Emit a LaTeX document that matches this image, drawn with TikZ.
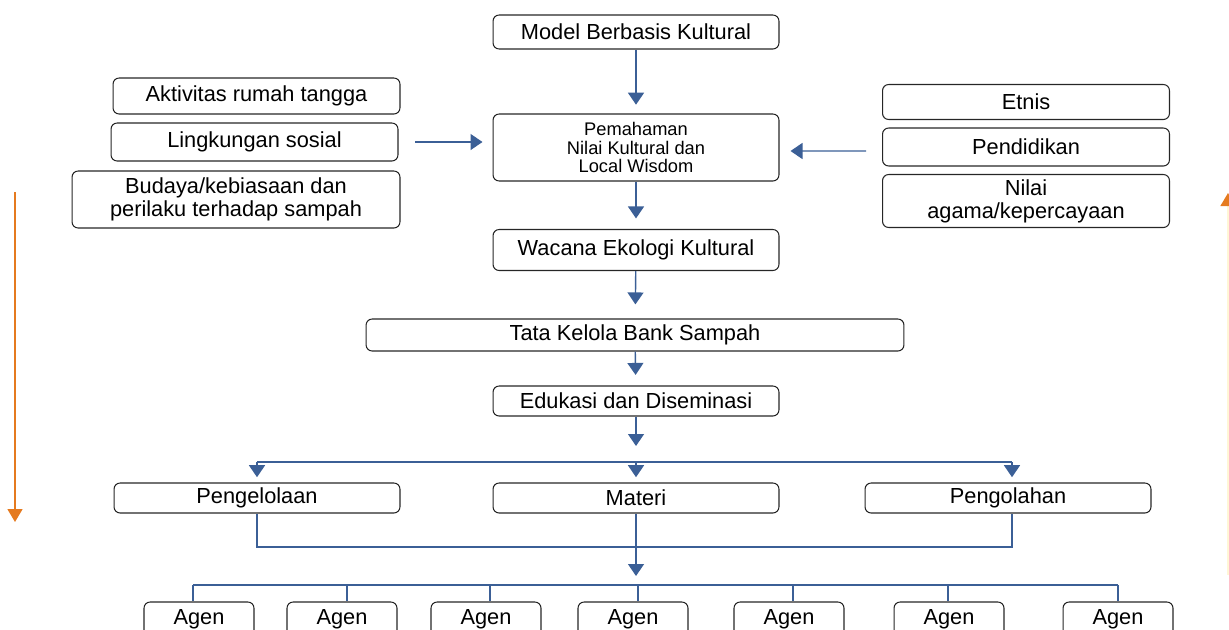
\documentclass[tikz,border=0pt]{standalone}
\usepackage{fontspec}
\setmainfont{Liberation Sans}
\usepackage{xcolor}
\usepackage{tikz}
\usetikzlibrary{arrows.meta,positioning,calc}
\definecolor{flowblue}{RGB}{59,95,150}
\definecolor{accentorange}{RGB}{229,122,31}
\definecolor{paleyellow}{RGB}{255,246,214}

\begin{document}
\begin{tikzpicture}[
x=0.02cm,
y=-0.02cm,
every node/.style={font=\fontsize{12.4}{13}\selectfont},
box/.style={rectangle,rounded corners=3.5pt,draw=black!85,line width=0.6pt,align=center,inner sep=1pt,minimum width=5.72cm,minimum height=0.68cm},
sidebox/.style={box,minimum width=5.74cm},
wide/.style={box,minimum width=10.76cm,minimum height=0.64cm},
agent/.style={box,minimum width=2.2cm},
arr/.style={-{Triangle[length=2.4mm,width=3.2mm]},draw=flowblue,line width=0.8pt},
lnk/.style={draw=flowblue,line width=0.8pt},
trend/.style={-{Triangle[length=2.6mm,width=3mm]},draw=accentorange,line width=0.8pt}
]
\useasboundingbox (0,0) rectangle (1229,629);

\node[box] (model) at (636,32) {Model Berbasis Kultural};
\node[box,minimum height=1.34cm,font=\fontsize{10.4}{10.4}\selectfont] (paham) at (636,147.5) {Pemahaman\\Nilai Kultural dan\\Local Wisdom};
\node[box,minimum height=0.82cm] (wacana) at (636,250) {Wacana Ekologi Kultural};
\node[wide] (tata) at (635,335) {Tata Kelola Bank Sampah};
\node[box,minimum height=0.6cm] (edukasi) at (636,401) {Edukasi dan Diseminasi};

\node[sidebox,minimum height=0.72cm] (aktivitas) at (256.5,96) {Aktivitas rumah tangga};
\node[sidebox,minimum height=0.76cm] (lingkungan) at (254.5,142) {Lingkungan sosial};
\node[box,minimum width=6.56cm,minimum height=1.14cm] (budaya) at (236,199.5) {Budaya/kebiasaan dan\\perilaku terhadap sampah};

\node[sidebox,minimum height=0.7cm] (etnis) at (1026,102) {Etnis};
\node[sidebox,minimum height=0.76cm] (didik) at (1026,147) {Pendidikan};
\node[sidebox,minimum height=1.06cm] (agama) at (1026,201) {Nilai\\agama/kepercayaan};

\node[box,minimum height=0.6cm] (kelola) at (257,498) {Pengelolaan};
\node[box,minimum height=0.6cm] (materi) at (636,498) {Materi};
\node[box,minimum height=0.6cm] (olah) at (1008,498) {Pengolahan};

\foreach \i/\x in {1/199,2/342,3/486,4/633,5/789,6/949,7/1118}
  \node[agent] (agen\i) at (\x,619) {Agen};

\coordinate (lefttail) at (415,142);
\coordinate (righttail) at (866,151);
\coordinate (eduend) at (636,446);
\coordinate (splitL) at (257,462);
\coordinate (splitM) at (636,462);
\coordinate (splitR) at (1012,462);
\coordinate (joinL) at (257,547);
\coordinate (joinR) at (1012,547);
\coordinate (agenend) at (636,576);
\coordinate (busL) at (193,585);
\coordinate (busR) at (1118,585);
\coordinate (downtop) at (15,192);
\coordinate (downend) at (15,522);
\coordinate (uptail) at (1228,575);
\coordinate (upend) at (1228,193);

\draw[arr,shorten >=5pt] (model) -- (paham);
\draw[arr,shorten >=6pt] (paham) -- (wacana);
\draw[arr,shorten >=8pt] (wacana) -- (tata);
\draw[arr] (lefttail) -- ($(paham.west)+(-10,-5.5)$);
\draw[arr] (righttail) -- ($(paham.east)+(11,3.5)$);
\draw[arr,shorten >=6pt] (tata) -- (edukasi);
\draw[arr] (edukasi) -- (eduend);
\draw[lnk] (splitL) -- (splitR);
\draw[arr,shorten >=3pt] (splitL) -- (kelola);
\draw[arr,shorten >=3pt] (splitM) -- (materi);
\draw[arr,shorten >=3pt] (splitR) -- (olah.north -| splitR);
\draw[lnk] (kelola.south) -- (joinL) -- (joinR) -- (olah.south -| joinR);
\draw[arr] (materi) -- (agenend);
\draw[lnk] (busL) -- (busR);
\foreach \i/\x in {1/193,2/347,3/490,4/638,5/793,6/948,7/1118}
  \draw[lnk] (\x,585) -- (agen\i.north -| {(\x,0)});

\draw[trend] (downtop) -- (downend);
\draw[trend,draw=paleyellow,-{Triangle[length=2.6mm,width=3mm,color=accentorange]}] (uptail) -- (upend);
\end{tikzpicture}
\end{document}
